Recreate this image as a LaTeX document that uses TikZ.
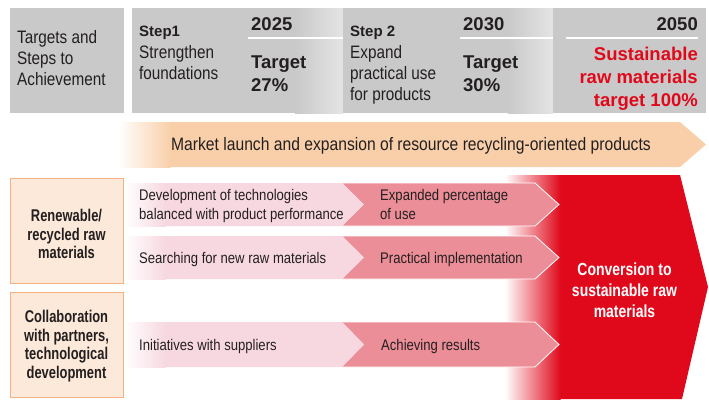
\documentclass[tikz,border=0pt]{standalone}
\usepackage{fontspec}
\setmainfont{Liberation Sans}
\newfontfamily\cn{Liberation Sans}[FakeStretch=0.85]
\newfontfamily\cnm{Liberation Sans}[FakeStretch=0.87]
\newfontfamily\cnb{Liberation Sans}[FakeStretch=0.76]
\newfontfamily\cnw{Liberation Sans}[FakeStretch=0.8]
\definecolor{hgray}{HTML}{C9C9C9}
\definecolor{hlight}{HTML}{E4E4E4}
\definecolor{peach}{HTML}{F9CFA9}
\definecolor{lpink}{HTML}{F7D8E0}
\definecolor{dpink}{HTML}{EC8E98}
\definecolor{bred}{HTML}{E0091B}
\definecolor{ofill}{HTML}{FDE9D9}
\definecolor{oborder}{HTML}{F4B183}
\definecolor{ink}{HTML}{231F20}
\tikzset{
  hdr/.style={font=\cn\fontsize{18}{21}\selectfont, text=ink, align=left, inner sep=0pt},
  stepttl/.style={font=\bfseries\fontsize{15}{18}\selectfont, text=ink, inner sep=0pt},
  yearlbl/.style={font=\bfseries\fontsize{18.5}{22}\selectfont, text=ink, inner sep=0pt},
  tgt/.style={font=\bfseries\fontsize{18.5}{23}\selectfont, text=ink, align=left, inner sep=0pt},
  rowtxt/.style={font=\cn\fontsize{15.4}{19}\selectfont, text=ink, align=left, inner sep=0pt},
  lbox/.style={draw=oborder, line width=1pt, fill=ofill, minimum width=113, minimum height=105, inner sep=0pt},
  lboxtxt/.style={font=\cnb\bfseries\fontsize{17}{18.7}\selectfont, text=ink, align=center, inner sep=0pt},
  wline/.style={white, line width=1.5pt}
}
\begin{document}
\begin{tikzpicture}[x=1pt,y=-1pt]
\useasboundingbox (0,0) rectangle (709,399);
% header boxes
\fill[hgray] (10,8) rectangle (124,113);
\fill[hgray] (132,8) rectangle (295.5,113);
\shade[left color=hgray,right color=hlight] (295,8) rectangle (343,113);
\fill[hgray] (343,8) rectangle (508.5,113);
\shade[left color=hgray,right color=hlight] (508,8) rectangle (553,113);
\fill[hgray] (553,8) rectangle (706,113);
\coordinate (l1a) at (248,38); \coordinate (l1b) at (343,38);
\coordinate (l2a) at (460,38); \coordinate (l2b) at (553,38);
\coordinate (l3a) at (566,38); \coordinate (l3b) at (698,38);
\draw[wline] (l1a) -- (l1b);
\draw[wline] (l2a) -- (l2b);
\draw[wline] (l3a) -- (l3b);
% header texts
\node[hdr, anchor=west] (tsa) at (17,58.5) {Targets and\\Steps to\\Achievement};
\node[stepttl, anchor=base west] (s1) at (139,36) {Step1};
\node[hdr, anchor=west] (s1t) at (139,63) {Strengthen\\foundations};
\node[yearlbl, anchor=base west] (y1) at (251,30) {2025};
\node[tgt, anchor=west] (t1) at (251,74.2) {Target\\27\%};
\node[stepttl, anchor=base west] (s2) at (350,36) {Step 2};
\node[hdr, anchor=west] (s2t) at (350,75.3) {Expand\\practical use\\for products};
\node[yearlbl, anchor=base west] (y2) at (463,30) {2030};
\node[tgt, anchor=west] (t2) at (463,74.2) {Target\\30\%};
\node[yearlbl, anchor=base east] (y3) at (698,30) {2050};
\node[tgt, anchor=east, align=right, text=bred] (t3) at (698,78.7) {Sustainable\\raw materials\\target 100\%};
% market arrow
\fill[peach] (170,122) -- (680,122) -- (706,144.5) -- (680,167) -- (170,167) -- cycle;
\shade[left color=white,right color=peach] (118,122) rectangle (170.5,167);
\node[font=\cnm\fontsize{18}{21}\selectfont, text=ink, anchor=base, inner sep=0pt] (mkt) at (411,150.5)
  {Market launch and expansion of resource recycling-oriented products};
% red conversion shape
\fill[bred] (560,175) -- (680,175) -- (708,287) -- (682,399) -- (560,399) -- cycle;
\shade[left color=white,right color=bred] (505,175) rectangle (560.5,399);
\node[font=\cnw\bfseries\fontsize{17.5}{21}\selectfont, text=white, align=center, inner sep=0pt] (conv)
  at (624.5,290.5) {Conversion to\\sustainable raw\\materials};
% rows
\foreach \t/\b in {183/226, 236/279, 322/367}{
  \pgfmathsetmacro{\m}{(\t+\b)/2}
  \fill[dpink] (342,\t) -- (535,\t) -- (559,\m) -- (535,\b) -- (342,\b) -- (364,\m) -- cycle;
  \draw[white, line width=0.8pt] (342,\t) -- (535,\t) -- (559,\m) -- (535,\b) -- (342,\b);
  \fill[lpink] (165,\t) -- (342,\t) -- (364,\m) -- (342,\b) -- (165,\b) -- cycle;
  \shade[left color=white,right color=lpink] (124,\t) rectangle (165.5,\b);
}
\node[rowtxt, anchor=west] (r1a) at (139,206.4) {Development of technologies\\balanced with product performance};
\node[rowtxt, anchor=west] (r1b) at (380,204.7) {Expanded percentage\\of use};
\node[rowtxt, anchor=base west] (r2a) at (139,263) {Searching for new raw materials};
\node[rowtxt, anchor=base west] (r2b) at (380,263) {Practical implementation};
\node[rowtxt, anchor=base west] (r3a) at (139,350.5) {Initiatives with suppliers};
\node[rowtxt, anchor=base west] (r3b) at (381,350.5) {Achieving results};
% left boxes
\node[lbox] (b1) at (66.5,231.25) {};
\node[lboxtxt] (b1t) at (66.5,234) {Renewable/\\recycled raw\\materials};
\node[lbox] (b2) at (66.5,345) {};
\node[lboxtxt] (b2t) at (66.5,346) {Collaboration\\with partners,\\technological\\development};
\end{tikzpicture}
\end{document}
